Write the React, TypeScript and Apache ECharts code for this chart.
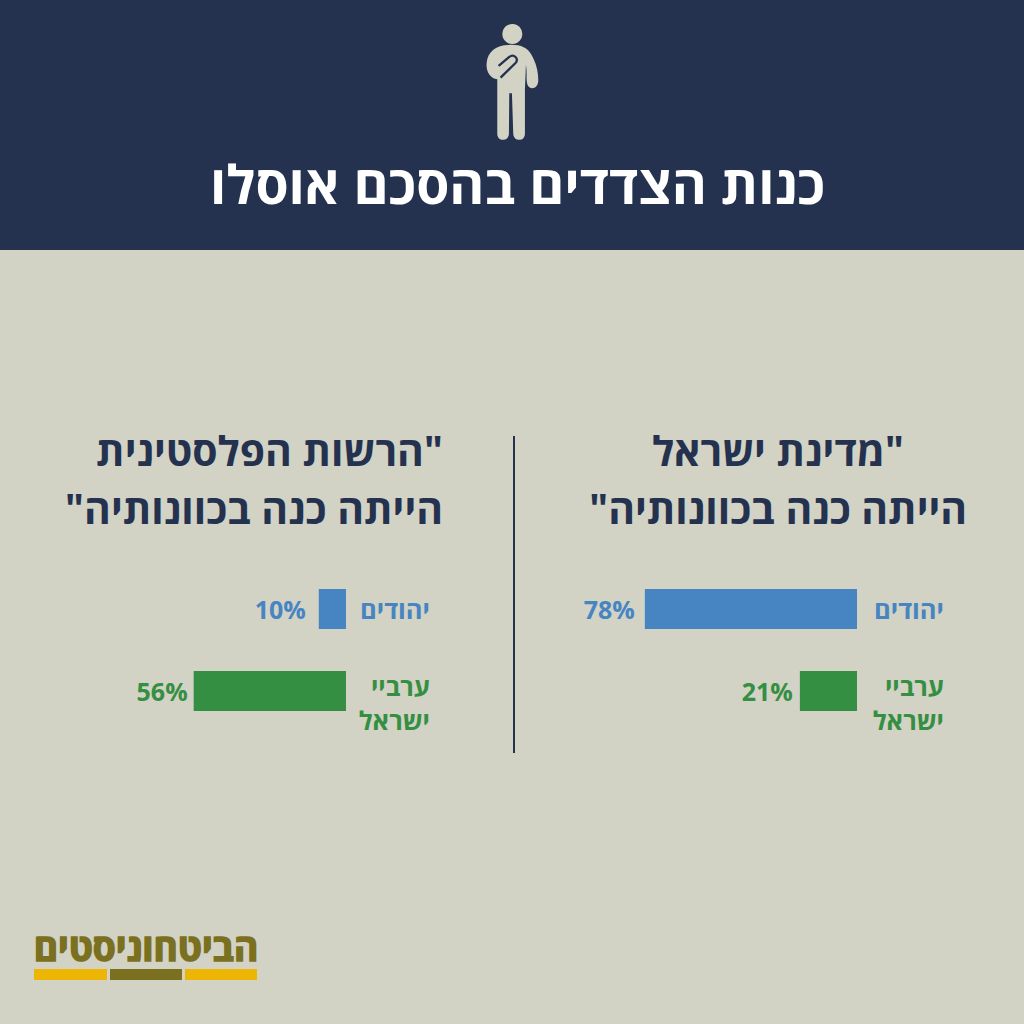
import React, { useEffect, useRef } from "react";
import * as echarts from "echarts";

const FONT = '"Open Sans", "Noto Sans", "DejaVu Sans", sans-serif';
const NAVY = "#24324f";
const BG = "#d2d2c5";
const BLUE = "#4785c2";
const GREEN = "#358f42";
const OLIVE = "#7a7020";
const GOLD = "#edb604";

const categories = ["יהודים", "ערביי\nישראל"];
const israelValues = [78, 21];
const paValues = [10, 56];
const mainTitle = "כנות הצדדים בהסכם אוסלו";
const israelTitle = '\u200f"מדינת ישראל\n\u200fהייתה כנה בכוונותיה"\u200f';
const paTitle = '\u200f"הרשות הפלסטינית\n\u200fהייתה כנה בכוונותיה"\u200f';
const logoText = "הביטחוניסטים";
const barColors = [BLUE, GREEN];

echarts.graphic.registerShape(
  "personBody",
  echarts.graphic.extendPath(
    "M140 160 C142 125 170 105 205 105 C240 103 262 112 275 135 C288 158 296 185 295 215 C293 238 268 242 262 222 C258 205 262 185 258 165 L255 240 L255 372 C254 396 222 396 220 372 L216 250 L208 250 L207 372 C205 396 173 396 172 372 L172 208 C150 205 138 185 140 160 Z",
    {}
  )
);
echarts.graphic.registerShape(
  "personClip",
  echarts.graphic.extendPath(
    "M176 168 L208 141 C222 130 240 148 226 160 L182 203",
    {}
  )
);

const axisCategory = categories.map((value, i) => ({
  value,
  textStyle:
    i === 1
      ? { color: barColors[i], align: "right", verticalAlign: "top", padding: [-22, 0, 0, 0] }
      : { color: barColors[i], align: "right", verticalAlign: "middle" },
}));

const panelAxes = (gridIndex: number, margin: number) => ({
  x: {
    type: "value",
    gridIndex,
    min: 0,
    max: 100,
    inverse: true,
    show: false,
  },
  y: {
    type: "category",
    gridIndex,
    data: axisCategory,
    inverse: true,
    position: "right",
    axisLine: { show: false },
    axisTick: { show: false },
    splitLine: { show: false },
    axisLabel: {
      margin,
      fontFamily: FONT,
      fontSize: 25.5,
      fontWeight: "bold",
      lineHeight: 34,
    },
  },
});

const panelSeries = (name: string, values: number[], idx: number, gaps: number[]) => ({
  name,
  type: "bar",
  xAxisIndex: idx,
  yAxisIndex: idx,
  barWidth: 40,
  data: values.map((value, i) => ({
    value,
    itemStyle: { color: barColors[i] },
    label: { color: barColors[i], distance: gaps[i] },
  })),
  label: {
    show: true,
    position: "left",
    formatter: "{c}%",
    fontFamily: FONT,
    fontSize: 25,
    fontWeight: "bold",
  },
});

export default function App() {
  const ref = useRef<HTMLDivElement>(null);
  useEffect(() => {
    document.body.style.margin = "0";
    const chart = echarts.init(ref.current!, undefined, { renderer: "svg" });
    const a = panelAxes(0, 87);
    const b = panelAxes(1, 84);
    chart.setOption({
      animation: false,
      backgroundColor: BG,
      title: [
        {
          text: mainTitle,
          left: 512.5,
          top: 145,
          textAlign: "center",
          textStyle: { color: "#ffffff", fontFamily: FONT, fontSize: 53.5, fontWeight: "bold", lineHeight: 66 },
          z: 5,
        },
        {
          text: israelTitle,
          left: 773,
          top: 416,
          textAlign: "center",
          textStyle: { color: NAVY, fontFamily: FONT, fontSize: 40.8, fontWeight: "bold", lineHeight: 58 },
        },
        {
          text: paTitle,
          left: 438,
          top: 416,
          textAlign: "right",
          textStyle: { color: NAVY, fontFamily: FONT, fontSize: 40.8, fontWeight: "bold", lineHeight: 58 },
        },
        {
          text: logoText,
          left: 141,
          top: 919,
          textAlign: "center",
          textStyle: { color: OLIVE, fontFamily: FONT, fontSize: 37, fontWeight: "bold", lineHeight: 44, textBorderColor: OLIVE, textBorderWidth: 1.5 },
        },
      ],
      grid: [
        { left: 585, right: 167, top: 568, bottom: 292 },
        { left: 74, right: 678, top: 568, bottom: 292 },
      ],
      xAxis: [a.x, b.x],
      yAxis: [a.y, b.y],
      series: [
        panelSeries("מדינת ישראל", israelValues, 0, [10, 7]),
        panelSeries("הרשות הפלסטינית", paValues, 1, [13, 6]),
      ],
      graphic: [
        { type: "rect", z: -1, shape: { x: 0, y: 0, width: 1024, height: 250 }, style: { fill: NAVY } },
        { type: "circle", shape: { cx: 512.3, cy: 34, r: 10 }, style: { fill: BG } },
        { type: "personBody", x: 440, y: 10, scaleX: 1 / 3, scaleY: 1 / 3, style: { fill: BG } },
        { type: "personClip", x: 440, y: 10, scaleX: 1 / 3, scaleY: 1 / 3, style: { fill: "none", stroke: NAVY, lineWidth: 7 } },
        { type: "line", shape: { x1: 514, y1: 436, x2: 514, y2: 753 }, style: { stroke: NAVY, lineWidth: 2 } },
        { type: "rect", shape: { x: 34, y: 969, width: 73, height: 11 }, style: { fill: GOLD } },
        { type: "rect", shape: { x: 110, y: 969, width: 72, height: 11 }, style: { fill: OLIVE } },
        { type: "rect", shape: { x: 185, y: 969, width: 72, height: 11 }, style: { fill: GOLD } },
      ],
    });
    return () => chart.dispose();
  }, []);
  return <div ref={ref} style={{ width: 1024, height: 1024 }} />;
}
